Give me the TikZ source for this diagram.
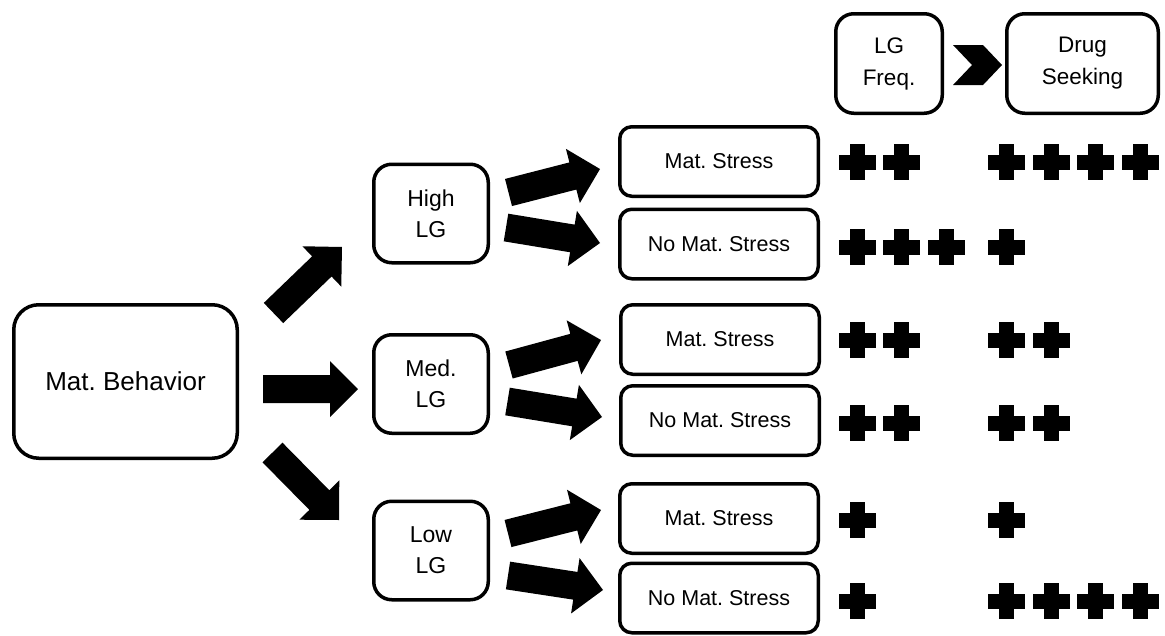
\documentclass[tikz,border=0pt]{standalone}
\usepackage{fontspec}
\setmainfont{Liberation Sans}
\usetikzlibrary{calc}
\frenchspacing
\newcommand\fsbig{\fontsize{26}{30}\selectfont}
\newcommand\fslg{\fontsize{23}{31}\selectfont}
\newcommand\fshead{\fontsize{22.5}{32}\selectfont}
\newcommand\fsst{\fontsize{21.5}{26}\selectfont}
\tikzset{
  box/.style={draw, line width=3.5pt, rounded corners=#1, align=center, inner sep=0pt},
  box/.default=15pt,
  mainbox/.style={box=25pt, minimum width=223.5pt, minimum height=153.5pt, font=\fsbig},
  lgbox/.style={box=18pt, minimum width=114.5pt, minimum height=98.5pt, font=\fslg},
  stbox/.style={box=12pt, minimum width=198.5pt, minimum height=69.5pt, font=\fsst},
  headbox/.style={box=18pt, minimum height=99.5pt, font=\fshead},
  blockarrow/.style={to path={
    ($(\tikztostart)!14pt!90:(\tikztotarget)$)
    -- ($(\tikztotarget)!31.3pt!-26.57:(\tikztostart)$)
    -- ($(\tikztotarget)!39.6pt!-45:(\tikztostart)$)
    -- (\tikztotarget)
    -- ($(\tikztotarget)!39.6pt!45:(\tikztostart)$)
    -- ($(\tikztotarget)!31.3pt!26.57:(\tikztostart)$)
    -- ($(\tikztostart)!14pt!-90:(\tikztotarget)$)
    -- cycle}},
  plus/.pic={\fill (-18.5,-7.5) rectangle (18.5,7.5); \fill (-7.5,-18) rectangle (7.5,18);}
}
\begin{document}
\begin{tikzpicture}[x=1pt,y=-1pt]
\useasboundingbox (0,0) rectangle (1165,635);

% header
\node[headbox, minimum width=106.5pt] (lgf) at (889,63.5) {LG\\Freq.};
\node[headbox, minimum width=151.5pt] (drug) at (1082.5,63.5) {Drug\\Seeking};
\coordinate (chv) at (953,45);
\fill (chv) -- ++(30,0) -- ++(19,20) -- ++(-19,20) -- ++(-30,0) -- ++(19,-20) -- cycle;

% main nodes
\node[mainbox] (matb) at (125.5,381.5) {Mat. Behavior};
\node[lgbox] (high) at (431,213.5) {High\\LG};
\node[lgbox] (med) at (431,384) {Med.\\LG};
\node[lgbox] (low) at (431,550.5) {Low\\LG};

\node[stbox] (hs) at (719,161.5) {Mat. Stress};
\node[stbox] (hn) at (719,244) {No Mat. Stress};
\node[stbox] (ms) at (720,339.5) {Mat. Stress};
\node[stbox] (mn) at (720,420.5) {No Mat. Stress};
\node[stbox] (ls) at (719,518.5) {Mat. Stress};
\node[stbox] (ln) at (719,598) {No Mat. Stress};

% big arrows
\coordinate (a1s) at (273.5,313); \coordinate (a1e) at (342,247);
\coordinate (a2s) at (263,389);   \coordinate (a2e) at (358,389);
\coordinate (a3s) at (272.5,452.5); \coordinate (a3e) at (339,520);
\fill (a1s) to[blockarrow] (a1e);
\fill (a2s) to[blockarrow] (a2e);
\fill (a3s) to[blockarrow] (a3e);

% small arrows
\coordinate (h1s) at (508.5,192.5); \coordinate (h1e) at (600,169);
\coordinate (h2s) at (506,227.5);   \coordinate (h2e) at (600,243);
\coordinate (m1s) at (509,365);     \coordinate (m1e) at (601,340);
\coordinate (m2s) at (507.5,401.5); \coordinate (m2e) at (602,417);
\coordinate (l1s) at (508,533.5);   \coordinate (l1e) at (601,510);
\coordinate (l2s) at (508,575.5);   \coordinate (l2e) at (603,590);
\foreach \s/\e in {h1s/h1e,h2s/h2e,m1s/m1e,m2s/m2e,l1s/l1e,l2s/l2e}
  \fill (\s) to[blockarrow] (\e);

% plus signs
\foreach \y/\a/\b in {162/2/4, 247/3/1, 340/2/2, 423/2/2, 520/1/1, 601/1/4}{
  \foreach \i in {1,...,\a} \pic at ({857+44.5*(\i-1)},\y) {plus};
  \foreach \i in {1,...,\b} \pic at ({1006.5+44.5*(\i-1)},\y) {plus};
}
\end{tikzpicture}
\end{document}
